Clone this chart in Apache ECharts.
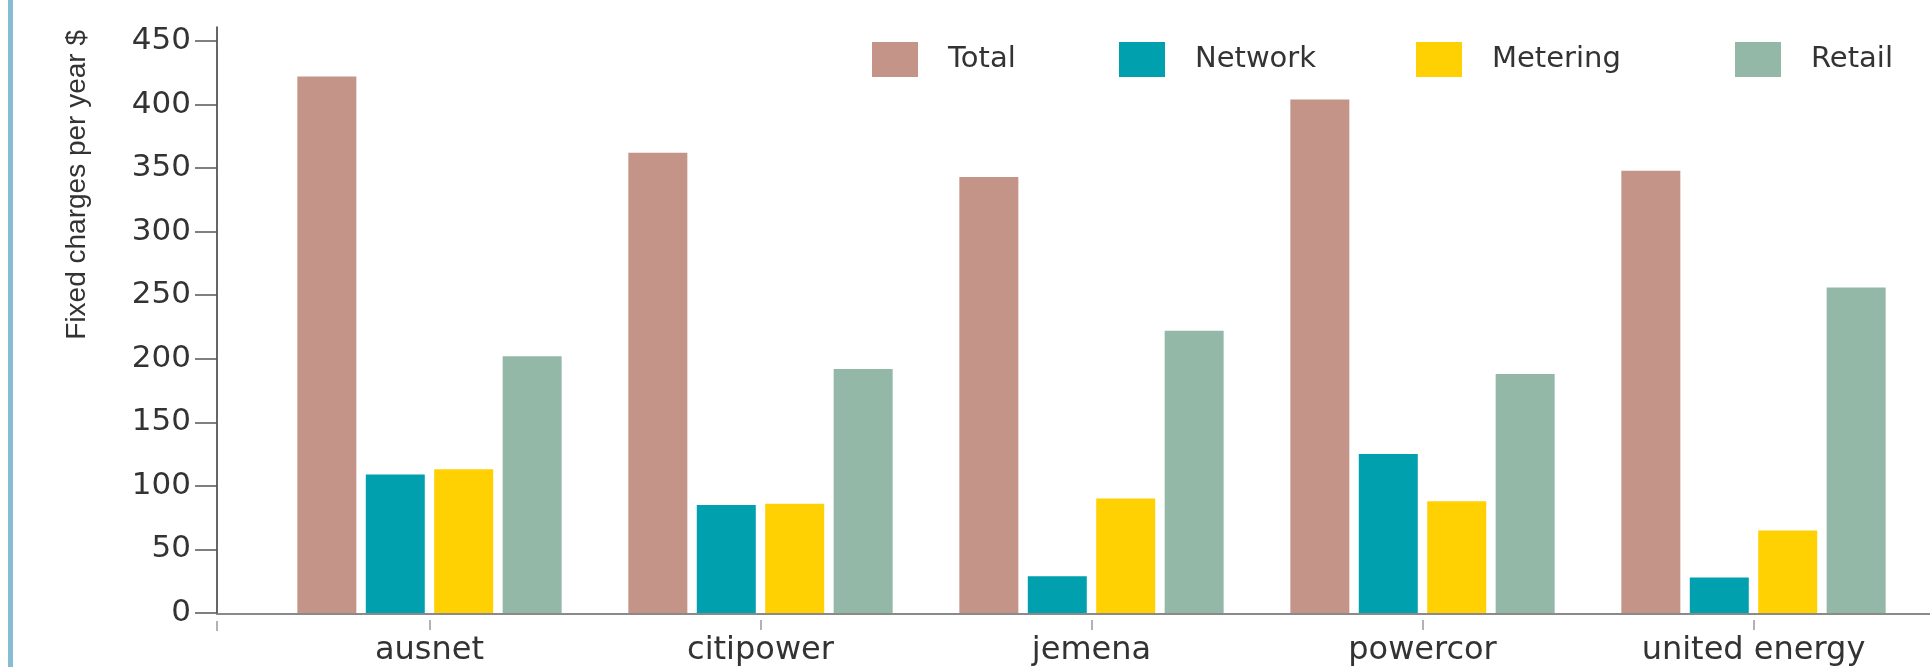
<!DOCTYPE html>
<html>
<head>
<meta charset="utf-8">
<title>Fixed charges per year</title>
<script src="https://cdn.jsdelivr.net/npm/echarts@6/dist/echarts.min.js"></script>
<style>
  html, body { margin: 0; padding: 0; background: #fff; }
  #chart { width: 1930px; height: 667px; }
</style>
</head>
<body>
<div id="chart"></div>
<script>
// data
const categories = ['ausnet', 'citipower', 'jemena', 'powercor', 'united energy'];
const totalValues = [422, 362, 343, 404, 348];
const networkValues = [109, 85, 29, 125, 28];
const meteringValues = [113, 86, 90, 88, 65];
const retailValues = [202, 192, 222, 188, 256];
const seriesNames = ['Total', 'Network', 'Metering', 'Retail'];
const seriesColors = ['#C49488', '#00A0AF', '#FFD002', '#93B8A7'];
const legendLeft = [872, 1119, 1416, 1735];

// theme
const theme = {
  textStyle: {
    fontFamily: 'DejaVu Sans, sans-serif',
    fontSize: 27,
    color: '#333'
  }
};
echarts.registerTheme('chargesTheme', theme);

const chart = echarts.init(document.getElementById('chart'), 'chargesTheme');

const values = [totalValues, networkValues, meteringValues, retailValues];

const series = seriesNames.map((name, i) => ({
  name: name,
  type: 'bar',
  xAxisIndex: 0,
  yAxisIndex: 0,
  data: values[i],
  barWidth: 59,
  barGap: '16%',
  itemStyle: { color: seriesColors[i] }
}));

// one legend per item, each placed on its own
const legends = seriesNames.map((name, i) => ({
  data: [name],
  left: legendLeft[i],
  top: 42,
  padding: 0,
  icon: 'rect',
  itemWidth: 46,
  itemHeight: 35,
  selectedMode: false,
  textStyle: {
    fontFamily: 'DejaVu Sans, sans-serif',
    fontSize: 29,
    color: '#333',
    padding: [0, 0, 0, 25]
  }
}));

const option = {
  animation: false,
  backgroundColor: '#fff',
  legend: legends,
  grid: [
    // bars
    { left: 264, right: 11, top: 41, bottom: 53 },
    // long axis lines
    { left: 217, right: 0, top: 27, bottom: 53 }
  ],
  xAxis: [
    {
      type: 'category',
      gridIndex: 0,
      position: 'bottom',
      data: categories,
      offset: 7,
      axisLine: { show: false, onZero: false },
      axisTick: {
        show: true,
        alignWithLabel: true,
        length: 10,
        lineStyle: { color: '#999', width: 1.5 }
      },
      axisLabel: {
        fontFamily: 'DejaVu Sans, sans-serif',
        fontSize: 32,
        color: '#333',
        margin: 15
      }
    },
    {
      type: 'value',
      gridIndex: 1,
      position: 'bottom',
      min: 0,
      max: 1,
      axisLine: { show: true, onZero: false, lineStyle: { color: '#8a8a8a', width: 2 } },
      axisTick: { show: false },
      axisLabel: { show: false },
      splitLine: { show: false }
    },
    {
      // only the small tick where the axes meet
      type: 'value',
      gridIndex: 1,
      position: 'bottom',
      min: 0,
      max: 1,
      offset: 7,
      axisLine: { show: false, onZero: false },
      axisTick: {
        show: true,
        customValues: [0],
        length: 10,
        lineStyle: { color: '#999', width: 1.5 }
      },
      axisLabel: { show: false },
      splitLine: { show: false }
    }
  ],
  yAxis: [
    {
      type: 'value',
      gridIndex: 0,
      position: 'left',
      min: 0,
      max: 450,
      interval: 50,
      offset: 47,
      name: 'Fixed charges per year $',
      nameLocation: 'end',
      nameRotate: 90,
      nameGap: 11,
      nameTextStyle: {
        fontFamily: 'Liberation Sans, sans-serif',
        fontSize: 28,
        color: '#333',
        align: 'right',
        verticalAlign: 'bottom',
        padding: [0, 0, 126, 0]
      },
      axisLine: { show: false, onZero: false },
      axisTick: { show: true, length: 22, lineStyle: { color: '#555', width: 1.5 } },
      axisLabel: {
        fontFamily: 'DejaVu Sans, sans-serif',
        fontSize: 31,
        color: '#333',
        margin: 26
      },
      splitLine: { show: false }
    },
    {
      type: 'value',
      gridIndex: 1,
      position: 'left',
      min: 0,
      max: 1,
      axisLine: { show: true, onZero: false, lineStyle: { color: '#333', width: 1.5 } },
      axisTick: { show: false },
      axisLabel: { show: false },
      splitLine: { show: false }
    }
  ],
  // blue page edge on the left
  graphic: [
    {
      type: 'rect',
      left: 8,
      top: 0,
      shape: { width: 5, height: 667 },
      style: { fill: '#86BDD3' }
    }
  ],
  series: series
};

chart.setOption(option);
</script>
</body>
</html>
